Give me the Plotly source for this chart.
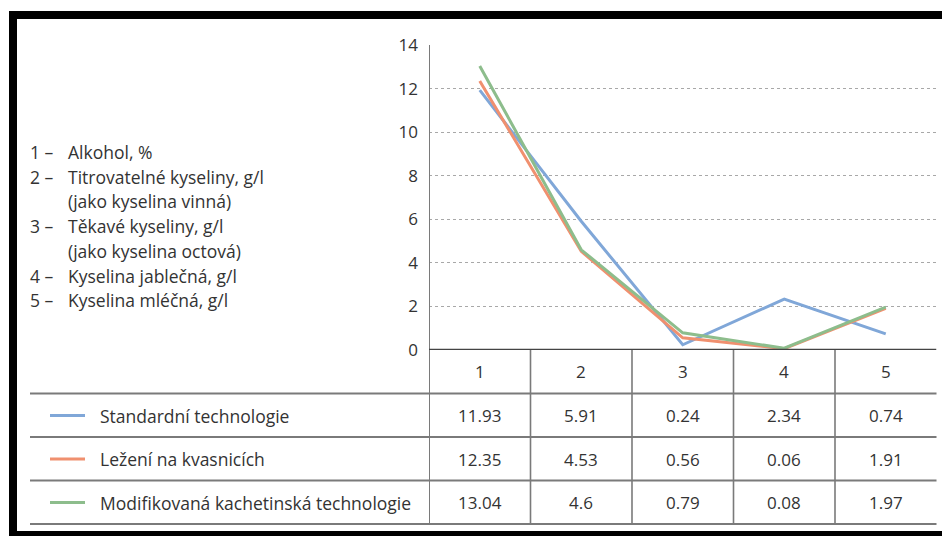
import plotly.graph_objects as go

# The page body has an 8px margin; page coordinates are shifted by OFF
OFF = 8
W, H = 950, 536 - OFF

categories = [1, 2, 3, 4, 5]
series_names = ["Standardní technologie", "Ležení na kvasnicích", "Modifikovaná kachetinská technologie"]
standard = [11.93, 5.91, 0.24, 2.34, 0.74]
lees = [12.35, 4.53, 0.56, 0.06, 1.91]
modified = [13.04, 4.6, 0.79, 0.08, 1.97]
y_ticks = [0, 2, 4, 6, 8, 10, 12, 14]
key_numbers = ["1 –", "2 –", "", "3 –", "", "4 –", "5 –"]
key_texts = ["Alkohol, %", "Titrovatelné kyseliny, g/l", "(jako kyselina vinná)",
             "Těkavé kyseliny, g/l", "(jako kyselina octová)",
             "Kyselina jablečná, g/l", "Kyselina mléčná, g/l"]

colors = ["#80a7d8", "#f0906f", "#8dbd8c"]
FONT = "Open Sans"
TXT = "#333333"
FS = 17.5
NFS = 17


def px(x):
    return (x - OFF) / W


def py(y):
    return (H - (y - OFF)) / H


fig = go.Figure()
for name, vals, col in zip(series_names, [standard, lees, modified], colors):
    fig.add_trace(go.Scatter(x=categories, y=vals, mode="lines", name=name,
                             line=dict(color=col, width=3), showlegend=False))

shapes = []
annotations = []

# frame
for (x0, y0, x1, y1) in [(9, 11, 958, 19), (9, 11, 17, 536), (9, 531, 958, 536)]:
    shapes.append(dict(type="rect", xref="paper", yref="paper", x0=px(x0), x1=px(x1),
                       y0=py(y1), y1=py(y0), fillcolor="black", line=dict(width=0), layer="above"))

# y-axis line through chart and table
shapes.append(dict(type="line", xref="x", yref="paper", x0=0.5, x1=0.5, y0=py(45), y1=py(524),
                   line=dict(color="#7a7a7a", width=2)))
# baseline
shapes.append(dict(type="line", xref="x", yref="y", x0=0.5, x1=5.5, y0=0, y1=0,
                   line=dict(color="#444444", width=2.5)))
# table verticals
for c in categories[1:]:
    shapes.append(dict(type="line", xref="x", yref="paper", x0=c - 0.5, x1=c - 0.5,
                       y0=py(350), y1=py(524), line=dict(color="#7a7a7a", width=1.6)))
# table horizontals
row_lines = [393.5, 437, 480.5, 524]
for yl in row_lines:
    shapes.append(dict(type="line", xref="paper", yref="paper", x0=px(30), x1=px(936.5),
                       y0=py(yl), y1=py(yl), line=dict(color="#7a7a7a", width=1.8)))

# header row category numbers
for c in categories:
    annotations.append(dict(x=c, y=py(371.5), xref="x", yref="paper", text=str(c), showarrow=False,
                            font=dict(family=FONT, size=NFS, color=TXT), xanchor="center", yanchor="middle"))

row_centers = [415.5, 459, 502.5]
for name, vals, col, yc in zip(series_names, [standard, lees, modified], colors, row_centers):
    shapes.append(dict(type="line", xref="paper", yref="paper", x0=px(50), x1=px(85),
                       y0=py(yc), y1=py(yc), line=dict(color=col, width=3)))
    annotations.append(dict(x=px(98), y=py(yc), xref="paper", yref="paper", text=name, showarrow=False,
                            font=dict(family=FONT, size=FS, color=TXT), xanchor="left", yanchor="middle"))
    for c, v in zip(categories, vals):
        annotations.append(dict(x=c, y=py(yc), xref="x", yref="paper", text=str(v), showarrow=False,
                                font=dict(family=FONT, size=NFS, color=TXT), xanchor="center", yanchor="middle"))

# key text block
for i, (num, txt) in enumerate(zip(key_numbers, key_texts)):
    yk = 152 + i * 24.7
    if num:
        annotations.append(dict(x=px(28), y=py(yk), xref="paper", yref="paper", text=num, showarrow=False,
                                font=dict(family=FONT, size=FS, color=TXT), xanchor="left", yanchor="middle"))
    annotations.append(dict(x=px(66), y=py(yk), xref="paper", yref="paper", text=txt, showarrow=False,
                            font=dict(family=FONT, size=FS, color=TXT), xanchor="left", yanchor="middle"))

fig.update_layout(
    width=W, height=H,
    margin=dict(l=0, r=0, t=0, b=0),
    paper_bgcolor="white", plot_bgcolor="white",
    showlegend=False,
    xaxis=dict(domain=[px(429), px(936.5)], range=[0.5, 5.5], showgrid=False, zeroline=False,
               showticklabels=False, ticks="", showline=False, fixedrange=True, automargin=False),
    yaxis=dict(domain=[py(350), py(45)], range=[0, 14], tickvals=y_ticks,
               showgrid=True, gridcolor="#a8a8a8", griddash="dot", gridwidth=1,
               zeroline=False, showline=False, ticks="", ticklabelstandoff=10,
               tickfont=dict(family=FONT, size=NFS, color=TXT), automargin=False, fixedrange=True),
    shapes=shapes,
    annotations=annotations,
)

fig.write_html("out.html")
